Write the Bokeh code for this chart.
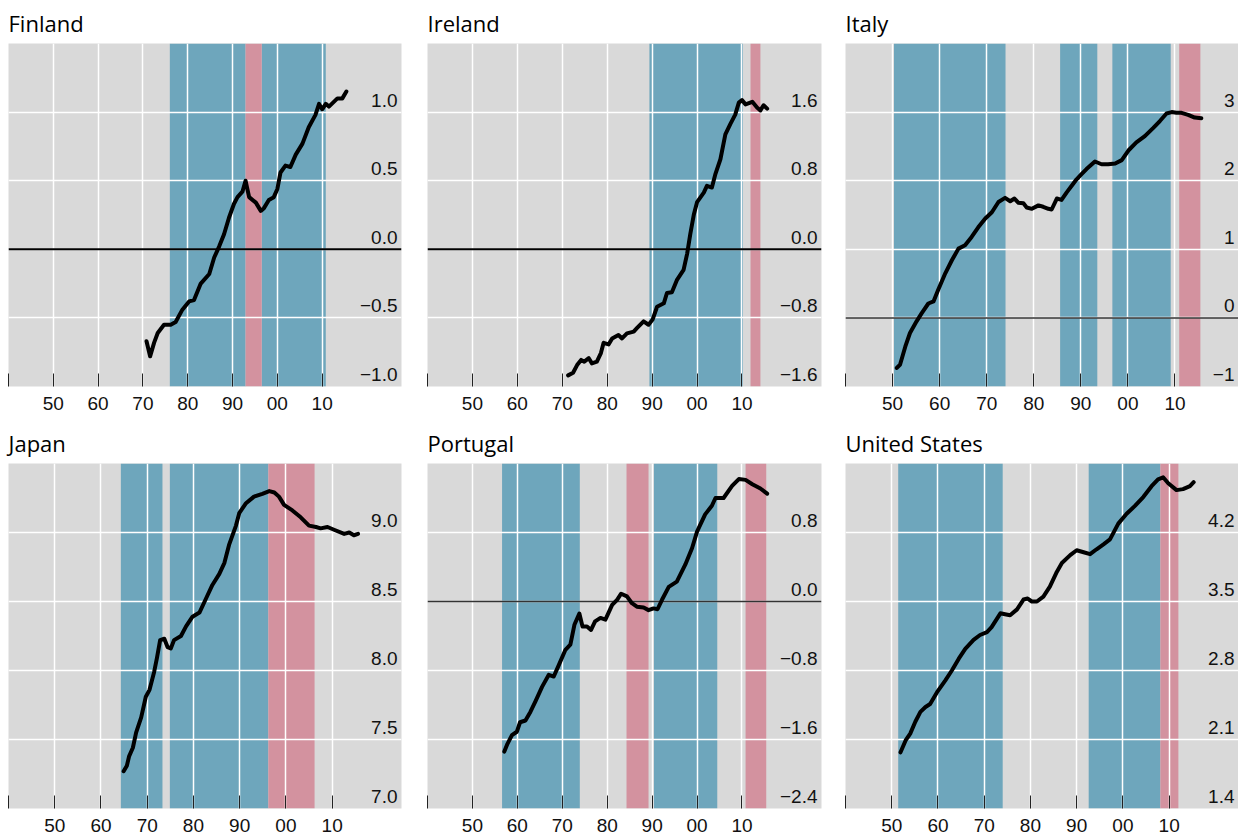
from bokeh.plotting import figure
from bokeh.layouts import column, row
from bokeh.models import Range1d, FixedTicker, Span, ColumnDataSource
from bokeh.embed import file_html
from bokeh.resources import INLINE
from bokeh.core.properties import value

# ---------------- data ----------------
x_tick_years = [1940, 1950, 1960, 1970, 1980, 1990, 2000, 2010]
x_tick_labels = ["", "50", "60", "70", "80", "90", "00", "10"]

fin_year = [1970.8, 1971.6, 1972.5, 1973.3, 1974.7, 1976.2, 1977.3, 1978.8, 1980.3, 1981.4, 1982.9, 1984.8,
            1985.9, 1987.0, 1988.1, 1989.2, 1990.3, 1991.1, 1992.2, 1992.9, 1993.7, 1995.2, 1996.3, 1997.0,
            1998.1, 1999.2, 2000.0, 2000.7, 2001.8, 2002.9, 2004.1, 2005.6, 2007.0, 2008.5, 2009.3, 2010.0,
            2010.8, 2011.5, 2013.4, 2014.5, 2015.4]
fin_val = [-0.67, -0.78, -0.68, -0.61, -0.55, -0.55, -0.53, -0.44, -0.38, -0.37, -0.25, -0.18,
           -0.06, 0.02, 0.11, 0.23, 0.33, 0.38, 0.42, 0.50, 0.38, 0.34, 0.28, 0.30,
           0.36, 0.38, 0.44, 0.56, 0.61, 0.60, 0.69, 0.77, 0.89, 0.98, 1.06, 1.02,
           1.06, 1.04, 1.10, 1.10, 1.15]
fin_yticks = [-1.0, -0.5, 0.0, 0.5, 1.0, 1.5]
fin_ylabels = ["\u22121.0", "\u22120.5", "0.0", "0.5", "1.0", ""]
fin_blue_start = [1976.0, 1996.5]
fin_blue_end = [1992.9, 2010.8]
fin_red_start = [1992.9]
fin_red_end = [1996.5]

ire_year = [1971.3, 1972.4, 1973.3, 1974.2, 1974.9, 1975.9, 1976.6, 1977.7, 1978.6, 1979.2, 1980.3, 1981.1,
            1982.5, 1983.3, 1984.4, 1985.9, 1986.6, 1988.1, 1989.2, 1990.1, 1991.1, 1992.6, 1993.3, 1994.4,
            1995.5, 1997.0, 1997.8, 1998.5, 1999.3, 2000.0, 2001.5, 2002.2, 2003.3, 2004.1, 2005.2, 2006.3,
            2007.4, 2008.5, 2009.3, 2010.0, 2010.8, 2012.3, 2013.4, 2014.1, 2014.8, 2015.6]
ire_val = [-1.47, -1.44, -1.35, -1.29, -1.31, -1.27, -1.33, -1.31, -1.21, -1.09, -1.11, -1.04,
           -1.00, -1.04, -0.98, -0.96, -0.92, -0.84, -0.88, -0.82, -0.67, -0.63, -0.51, -0.50,
           -0.36, -0.24, -0.05, 0.18, 0.41, 0.55, 0.66, 0.74, 0.72, 0.88, 1.05, 1.34,
           1.46, 1.57, 1.71, 1.74, 1.69, 1.72, 1.65, 1.62, 1.68, 1.64]
ire_yticks = [-1.6, -0.8, 0.0, 0.8, 1.6, 2.4]
ire_ylabels = ["\u22121.6", "\u22120.8", "0.0", "0.8", "1.6", ""]
ire_blue_start = [1989.4]
ire_blue_end = [2010.2]
ire_red_start = [2011.9]
ire_red_end = [2014.1]

ita_year = [1950.9, 1951.6, 1952.7, 1953.7, 1955.1, 1956.2, 1957.6, 1958.7, 1959.7, 1961.2, 1962.6, 1964.0,
            1965.4, 1966.8, 1968.2, 1969.7, 1971.1, 1972.5, 1973.9, 1975.0, 1975.9, 1976.7, 1977.8, 1978.5,
            1979.6, 1981.0, 1982.0, 1983.1, 1983.8, 1984.9, 1985.9, 1987.0, 1988.1, 1989.1, 1990.2, 1991.2,
            1993.0, 1994.4, 1995.8, 1997.3, 1998.7, 2000.1, 2001.8, 2003.6, 2005.4, 2006.8, 2008.2, 2009.3,
            2010.3, 2011.4, 2012.8, 2014.2, 2015.6]
ita_val = [-0.73, -0.68, -0.42, -0.22, -0.05, 0.07, 0.21, 0.24, 0.41, 0.65, 0.84, 1.01,
           1.06, 1.18, 1.32, 1.45, 1.54, 1.69, 1.75, 1.70, 1.74, 1.68, 1.67, 1.61,
           1.59, 1.64, 1.62, 1.59, 1.58, 1.74, 1.72, 1.83, 1.93, 2.02, 2.10, 2.17,
           2.28, 2.24, 2.24, 2.25, 2.30, 2.44, 2.56, 2.65, 2.77, 2.87, 2.98, 3.00,
           2.99, 2.99, 2.96, 2.92, 2.91]
ita_yticks = [-1, 0, 1, 2, 3, 4]
ita_ylabels = ["\u22121", "0", "1", "2", "3", ""]
ita_blue_start = [1950.3, 1985.6, 1996.7]
ita_blue_end = [1974.0, 1993.5, 2009.1]
ita_red_start = [2010.9]
ita_red_end = [2015.4]

jpn_year = [1964.9, 1965.6, 1966.1, 1966.9, 1967.6, 1968.7, 1969.7, 1970.5, 1971.5, 1972.1, 1972.8, 1973.7,
            1974.4, 1975.1, 1975.8, 1977.3, 1978.4, 1979.8, 1981.3, 1982.7, 1984.1, 1985.6, 1986.7, 1987.7,
            1989.2, 1989.9, 1991.3, 1993.1, 1994.9, 1996.4, 1997.5, 1998.5, 1999.6, 2001.4, 2003.2, 2005.0,
            2006.5, 2007.5, 2009.0, 2010.4, 2012.6, 2013.7, 2014.7, 2015.6]
jpn_val = [7.27, 7.31, 7.38, 7.44, 7.55, 7.66, 7.81, 7.86, 7.99, 8.09, 8.22, 8.23,
           8.17, 8.16, 8.22, 8.25, 8.32, 8.39, 8.42, 8.52, 8.62, 8.70, 8.78, 8.91,
           9.05, 9.14, 9.21, 9.26, 9.28, 9.30, 9.29, 9.26, 9.20, 9.16, 9.11, 9.05,
           9.04, 9.03, 9.04, 9.02, 8.99, 9.00, 8.98, 8.99]
jpn_yticks = [7.0, 7.5, 8.0, 8.5, 9.0, 9.5]
jpn_ylabels = ["7.0", "7.5", "8.0", "8.5", "9.0", ""]
jpn_blue_start = [1964.3, 1974.9]
jpn_blue_end = [1973.3, 1996.2]
jpn_red_start = [1996.2]
jpn_red_end = [2006.2]

por_year = [1957.1, 1957.8, 1958.8, 1959.9, 1960.6, 1961.8, 1962.9, 1964.0, 1965.5, 1967.0, 1968.1, 1969.2,
            1970.7, 1971.8, 1972.7, 1973.8, 1974.5, 1975.5, 1976.4, 1977.3, 1978.5, 1979.6, 1981.1, 1982.2,
            1983.1, 1984.4, 1985.5, 1986.6, 1988.1, 1989.2, 1990.3, 1991.2, 1992.2, 1993.7, 1995.5, 1997.4,
            1998.9, 2000.0, 2001.8, 2003.3, 2004.1, 2005.9, 2007.8, 2009.3, 2010.8, 2012.3, 2014.1, 2015.6]
por_val = [-1.74, -1.65, -1.55, -1.51, -1.40, -1.38, -1.28, -1.16, -0.99, -0.85, -0.87, -0.74,
           -0.56, -0.50, -0.27, -0.14, -0.29, -0.29, -0.33, -0.23, -0.19, -0.21, -0.04, 0.02,
           0.09, 0.06, -0.02, -0.06, -0.07, -0.10, -0.08, -0.09, 0.02, 0.17, 0.23, 0.43,
           0.62, 0.81, 1.01, 1.11, 1.20, 1.20, 1.34, 1.42, 1.41, 1.36, 1.31, 1.25]
por_yticks = [-2.4, -1.6, -0.8, 0.0, 0.8, 1.6]
por_ylabels = ["\u22122.4", "\u22121.6", "\u22120.8", "0.0", "0.8", ""]
por_blue_start = [1956.6, 1990.4]
por_blue_end = [1973.9, 2004.5]
por_red_start = [1984.3, 2010.8]
por_red_end = [1989.2, 2015.4]

usa_year = [1951.9, 1953.0, 1954.0, 1955.1, 1956.2, 1957.3, 1958.3, 1959.8, 1961.6, 1963.0, 1964.5, 1965.9,
            1967.7, 1969.1, 1970.6, 1971.6, 1973.5, 1974.5, 1975.6, 1977.1, 1978.5, 1979.4, 1980.3, 1981.4,
            1982.8, 1984.2, 1985.7, 1986.8, 1988.6, 1990.0, 1991.5, 1992.9, 1994.3, 1995.8, 1997.2, 1999.0,
            2000.8, 2002.6, 2004.4, 2006.2, 2007.6, 2008.7, 2009.8, 2011.6, 2013.0, 2014.5, 2015.3]
usa_val = [1.97, 2.09, 2.16, 2.28, 2.38, 2.43, 2.46, 2.58, 2.70, 2.80, 2.92, 3.02,
           3.11, 3.16, 3.19, 3.24, 3.38, 3.37, 3.36, 3.42, 3.52, 3.53, 3.50, 3.50,
           3.55, 3.65, 3.80, 3.89, 3.97, 4.02, 4.00, 3.98, 4.03, 4.08, 4.13, 4.29,
           4.39, 4.47, 4.56, 4.67, 4.74, 4.76, 4.70, 4.63, 4.64, 4.67, 4.71]
usa_yticks = [1.4, 2.1, 2.8, 3.5, 4.2, 4.9]
usa_ylabels = ["1.4", "2.1", "2.8", "3.5", "4.2", ""]
usa_blue_start = [1951.4, 1992.6]
usa_blue_end = [1974.0, 2008.1]
usa_red_start = [2008.1]
usa_red_end = [2012.0]

# ---------------- style ----------------
BG = "#d9d9d9"
BLUE = "#6ea6bc"
RED = "#d3929f"
NUM_FONT = "Liberation Sans"
TITLE_FONT = "Open Sans"


def make_panel(title, years, vals, x_end, yticks, ylabels, bs, be, rs, re_, zero, zero_style,
               w, h, bl, br, bt, bb):
    p = figure(width=w, height=h, x_range=Range1d(1940, x_end),
               y_range=Range1d(yticks[0], yticks[-1]),
               output_backend="svg", toolbar_location=None, y_axis_location=None,
               min_border_left=bl, min_border_right=br, min_border_top=bt, min_border_bottom=bb,
               background_fill_color=BG, border_fill_color="white", outline_line_color=None)
    p.title.text = title
    p.title.text_font = TITLE_FONT
    p.title.text_font_size = "22px"
    p.title.text_font_style = "normal"
    p.title.text_color = "black"
    p.title.align = "left"
    p.title.offset = 0
    p.title.standoff = 11

    # shaded regimes (below the grid)
    p.quad(left=bs, right=be, bottom=yticks[0], top=yticks[-1],
           fill_color=BLUE, line_color=None, level="image")
    p.quad(left=rs, right=re_, bottom=yticks[0], top=yticks[-1],
           fill_color=RED, line_color=None, level="image")

    for g in p.xgrid:
        g.ticker = FixedTicker(ticks=x_tick_years)
        g.grid_line_color = "white"
        g.grid_line_width = 1.5
    for g in p.ygrid:
        g.ticker = FixedTicker(ticks=yticks)
        g.grid_line_color = "white"
        g.grid_line_width = 1.5

    if zero:
        p.add_layout(Span(location=0, dimension="width", line_color=zero_style[0],
                          line_width=zero_style[1], level="underlay"))

    p.line(years, vals, line_color="black", line_width=4,
           line_join="round", line_cap="round")

    # y labels inside the frame, right side, above gridlines
    n = len(yticks) - 1
    src = ColumnDataSource(dict(x=[x_end] * n, y=yticks[:-1], t=ylabels[:-1]))
    p.text(x="x", y="y", text="t", source=src, text_align="right", text_baseline="middle",
           x_offset=-4, y_offset=-12, text_font=value(NUM_FONT), text_font_size="19px",
           text_color="#111111")

    ax = p.xaxis[0]
    ax.ticker = FixedTicker(ticks=x_tick_years)
    ax.major_label_overrides = {yr: lab for yr, lab in zip(x_tick_years, x_tick_labels)}
    ax.axis_line_color = None
    ax.major_tick_in = 13
    ax.major_tick_out = 0
    ax.major_tick_line_color = "#222222"
    ax.major_tick_line_width = 1
    ax.minor_tick_line_color = None
    ax.major_label_text_font = NUM_FONT
    ax.major_label_text_font_size = "19px"
    ax.major_label_text_color = "#111111"
    ax.major_label_standoff = 10
    return p


# (width, border_left, border_right)
cols = [(427, 8, 26), (418, 0, 24), (393, 0, 0)]
# (height, border_top, border_bottom)
rows_geo = [(419, 43, 33), (417, 44, 28)]

ZB = ("black", 2)
ZG = ("#333333", 1.5)

specs = [
    ("Finland", fin_year, fin_val, 2027.7, fin_yticks, fin_ylabels,
     fin_blue_start, fin_blue_end, fin_red_start, fin_red_end, True, ZB, 0, 0),
    ("Ireland", ire_year, ire_val, 2027.7, ire_yticks, ire_ylabels,
     ire_blue_start, ire_blue_end, ire_red_start, ire_red_end, True, ZB, 0, 1),
    ("Italy", ita_year, ita_val, 2023.5, ita_yticks, ita_ylabels,
     ita_blue_start, ita_blue_end, ita_red_start, ita_red_end, True, ZG, 0, 2),
    ("Japan", jpn_year, jpn_val, 2025.0, jpn_yticks, jpn_ylabels,
     jpn_blue_start, jpn_blue_end, jpn_red_start, jpn_red_end, False, ZB, 1, 0),
    ("Portugal", por_year, por_val, 2027.7, por_yticks, por_ylabels,
     por_blue_start, por_blue_end, por_red_start, por_red_end, True, ZG, 1, 1),
    ("United States", usa_year, usa_val, 2025.0, usa_yticks, usa_ylabels,
     usa_blue_start, usa_blue_end, usa_red_start, usa_red_end, False, ZB, 1, 2),
]

panels = [[], []]
for s in specs:
    r, c = s[-2], s[-1]
    w, bl, br = cols[c]
    h, bt, bb = rows_geo[r]
    panels[r].append(make_panel(*s[:-2], w, h, bl, br, bt, bb))

layout = column(row(*panels[0]), row(*panels[1]))
open("out.html", "w").write(file_html(layout, INLINE))
